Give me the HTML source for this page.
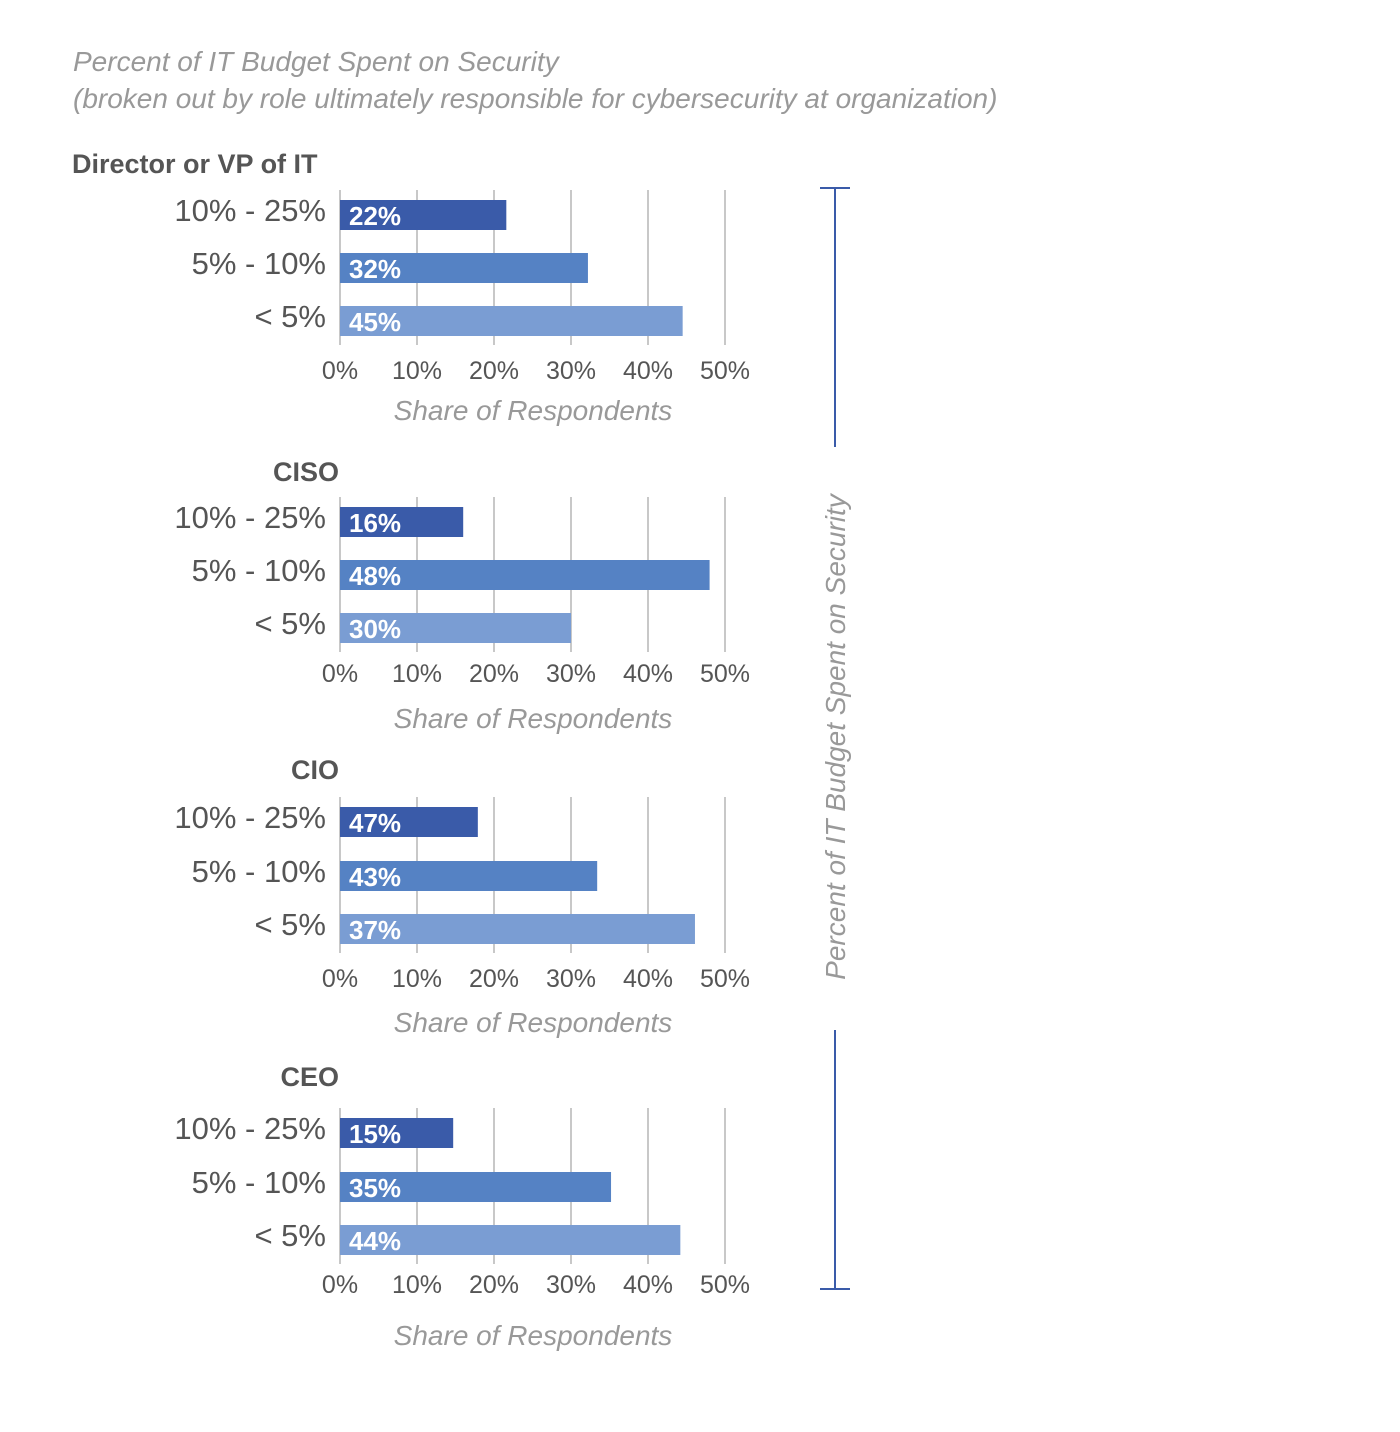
<!DOCTYPE html>
<html><head><meta charset="utf-8"><style>
body{margin:0;background:#fff;width:1400px;height:1427px;overflow:hidden;font-family:"Liberation Sans","DejaVu Sans",sans-serif}
</style></head><body>
<svg id="chart" width="1400" height="1427" xmlns="http://www.w3.org/2000/svg">
<text x="73" y="71" font-size="28" font-style="italic" fill="#999">Percent of IT Budget Spent on Security</text>
<text x="73" y="108" font-size="28" font-style="italic" fill="#999">(broken out by role ultimately responsible for cybersecurity at organization)</text>
<g stroke="#3a5ba9" stroke-width="2">
<line x1="835" y1="188" x2="835" y2="447"/><line x1="820" y1="188" x2="850" y2="188"/>
<line x1="835" y1="1030" x2="835" y2="1289"/><line x1="820" y1="1289" x2="850" y2="1289"/>
</g>
<text transform="translate(845,737) rotate(-90)" text-anchor="middle" font-size="28" font-style="italic" fill="#999">Percent of IT Budget Spent on Security</text>
</svg>
<script>
const roles = ["Director or VP of IT","CISO","CIO","CEO"];
const categories = ["10% - 25%","5% - 10%","< 5%"];
const directorValues = [21.6,32.2,44.5];
const cisoValues = [16,48,30];
const cioValues = [17.9,33.4,46.1];
const ceoValues = [14.7,35.2,44.2];
const directorLabels = ["22%","32%","45%"];
const cisoLabels = ["16%","48%","30%"];
const cioLabels = ["47%","43%","37%"];
const ceoLabels = ["15%","35%","44%"];
const ticks = [0,10,20,30,40,50];
const allValues=[directorValues,cisoValues,cioValues,ceoValues];
const allLabels=[directorLabels,cisoLabels,cioLabels,ceoLabels];
const NS="http://www.w3.org/2000/svg";
const svg=document.getElementById('chart');
const x0=340, pxPer=7.7;
const xs=v=>x0+v*pxPer;
const colors=["#3a5ba9","#5582c4","#7a9dd3"];
const panelTop=[163,471,769,1076];
const barY=[[215,268,321],[522,575,628],[822,876,929],[1133,1187,1240]];
const tickY=[370,673,978,1284];
const axTitleY=[410,718,1022,1335];
function mk(tag,attrs,txt){const e=document.createElementNS(NS,tag);for(const k in attrs)e.setAttribute(k,attrs[k]);if(txt!==undefined)e.textContent=txt;svg.appendChild(e);return e;}
roles.forEach((r,p)=>{
  const t=mk('text',{x:p==0?72:339,y:panelTop[p]+10,'font-size':27,'font-weight':'bold',fill:'#555','text-anchor':p==0?'start':'end'},r);
  
  
  const gTop=barY[p][0]-25, gBot=barY[p][2]+24;
  ticks.forEach(tk=>{
    const l=mk('line',{x1:xs(tk),x2:xs(tk),y1:gTop,y2:gBot,stroke:'#c8c8c8','stroke-width':2});
    
    
    const tl=mk('text',{x:xs(tk),y:tickY[p]+9,'font-size':25,fill:'#555','text-anchor':'middle'},tk+'%');
    
    
  });
  categories.forEach((c,i)=>{
    const y=barY[p][i];
    const cl=mk('text',{x:326,y:y+6,'font-size':31,fill:'#555','text-anchor':'end'},c);
    
    
    const b=mk('rect',{x:x0,y:y-15,width:xs(allValues[p][i])-x0,height:30,fill:colors[i]});
    
    
    const v=mk('text',{x:349,y:y+10,'font-size':26,'font-weight':'bold',fill:'#fff'},allLabels[p][i]);
    
    
  });
  const at=mk('text',{x:533,y:axTitleY[p]+10,'font-size':28,'font-style':'italic',fill:'#999','text-anchor':'middle'},'Share of Respondents');
  
  
});
</script>
</body></html>
